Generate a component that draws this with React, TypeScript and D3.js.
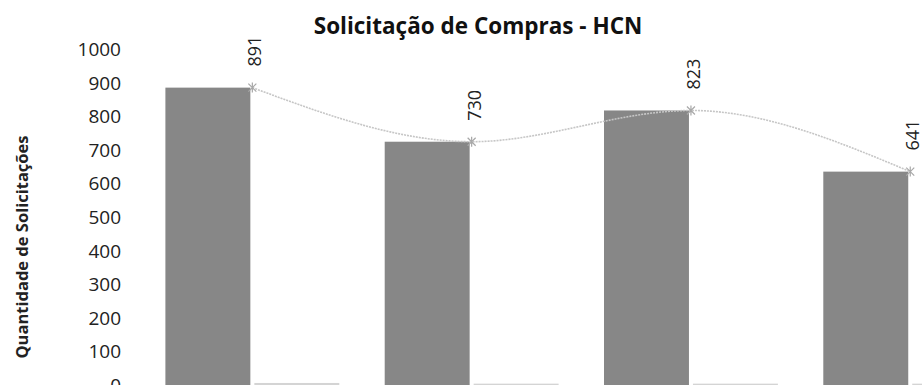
import * as d3 from "d3";

const categories = ["c1", "c2", "c3", "c4"];
const solicitacoes = [891, 730, 823, 641];
const outros = [12, 10, 10, 10];
const yTicks = [0, 100, 200, 300, 400, 500, 600, 700, 800, 900, 1000];

const width = 922;
const height = 385;
const font = "'Open Sans', sans-serif";

const App = () => {
  const x0 = d3
    .scaleBand()
    .domain(categories)
    .range([142.7, 142.7 + 4 * 219.3])
    .paddingInner(0.207)
    .paddingOuter(0.1035);
  const x1 = d3
    .scaleBand()
    .domain(["a", "b"])
    .range([0, x0.bandwidth()])
    .paddingInner(0.045);
  const y = d3.scaleLinear().domain([0, 1000]).range([387, 51]);

  const cx = (c: string) => (x0(c) as number) + x0.bandwidth() / 2;
  const pts: [number, number][] = categories.map((c, i) => [cx(c), y(solicitacoes[i])]);
  const lineGen = d3.line().curve(d3.curveMonotoneX);

  return (
    <svg
      width={width}
      height={height}
      style={{ position: "absolute", left: 0, top: 0, background: "#fff" }}
    >
      <text
        x={478}
        y={25}
        textAnchor="middle"
        dominantBaseline="central"
        fontFamily={font}
        fontWeight="bold"
        fontSize={22.5}
        fill="#111"
      >
        Solicitação de Compras - HCN
      </text>
      <text
        transform={`translate(21,247) rotate(-90)`}
        textAnchor="middle"
        dominantBaseline="central"
        fontFamily={font}
        fontWeight="bold"
        fontSize={16.5}
        fill="#222"
      >
        Quantidade de Solicitações
      </text>
      {yTicks.map((t) => (
        <text
          key={t}
          x={121}
          y={y(t) - 2}
          textAnchor="end"
          dominantBaseline="central"
          fontFamily={font}
          fontSize={19}
          fill="#222"
        >
          {t}
        </text>
      ))}
      {categories.map((c, i) => (
        <g key={c} transform={`translate(${x0(c)},0)`}>
          <rect
            x={x1("a")}
            y={y(solicitacoes[i])}
            width={x1.bandwidth()}
            height={y(0) - y(solicitacoes[i])}
            fill="#878787"
          />
          <rect
            x={x1("b")}
            y={y(outros[i])}
            width={x1.bandwidth()}
            height={y(0) - y(outros[i])}
            fill="#d4d4d4"
          />
        </g>
      ))}
      <path
        d={lineGen(pts) as string}
        fill="none"
        stroke="#c6c6c6"
        strokeWidth={1.6}
        strokeDasharray="2 1"
      />
      {pts.map(([px, py], i) => (
        <g key={i} transform={`translate(${px},${py})`}>
          <path d="M-4,-4L4,4M-4,4L4,-4M0,-5V5" stroke="#a8a8a8" strokeWidth={1.2} />
          <text
            transform={`translate(2,-21) rotate(-90)`}
            textAnchor="start"
            dominantBaseline="central"
            fontFamily={font}
            fontSize={18}
            fill="#222"
          >
            {solicitacoes[i]}
          </text>
        </g>
      ))}
    </svg>
  );
};

export default App;
